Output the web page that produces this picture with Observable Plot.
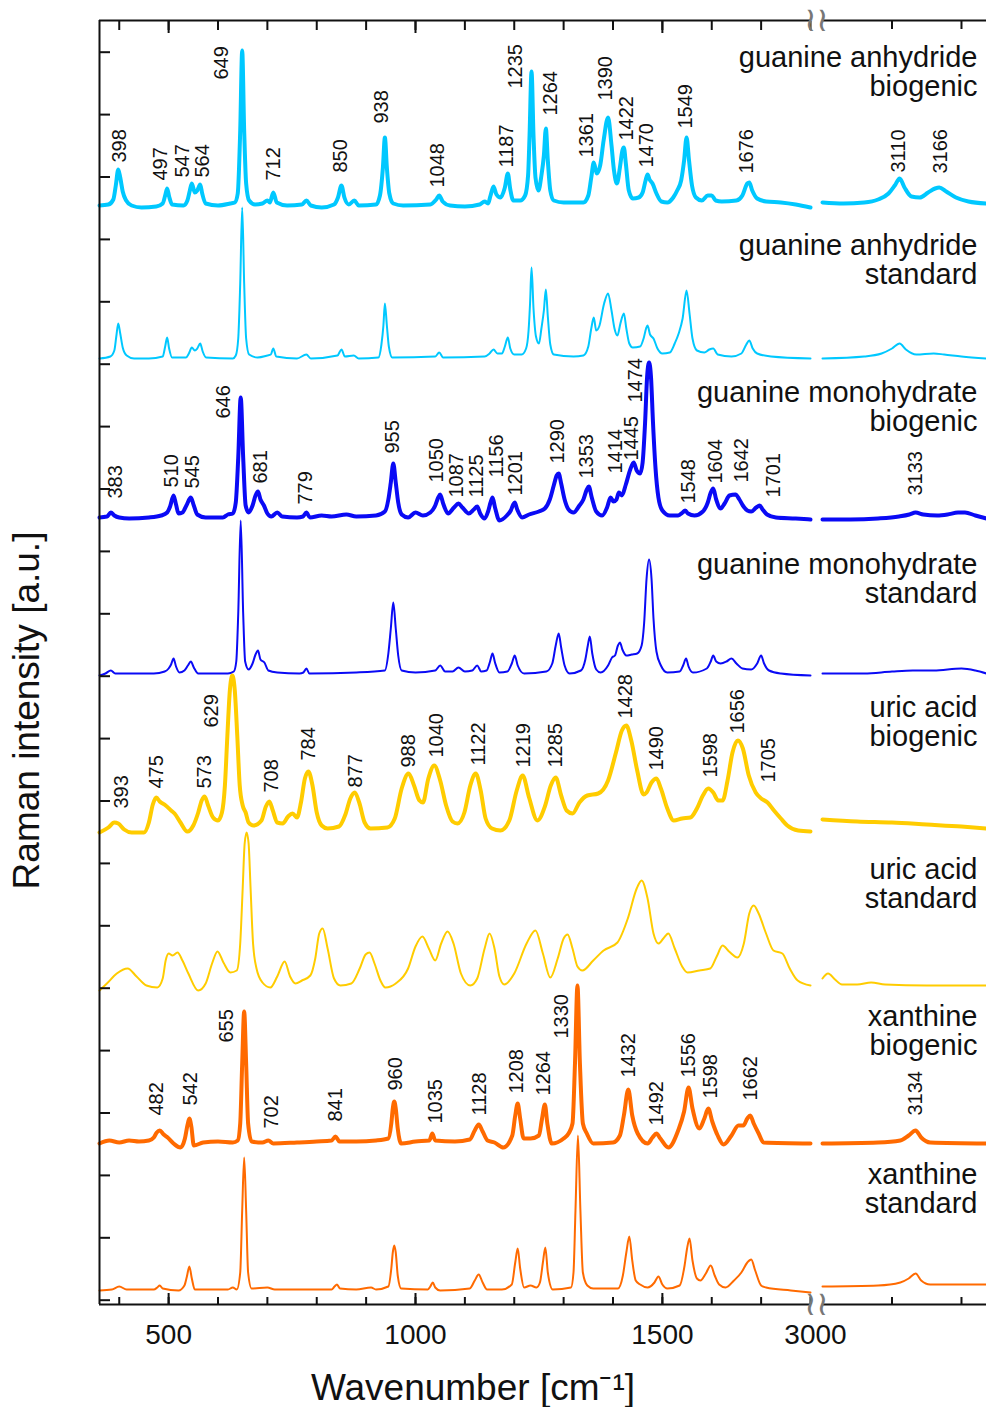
<!DOCTYPE html>
<html><head><meta charset="utf-8">
<script src="https://cdn.jsdelivr.net/npm/d3@7"></script>
<script src="https://cdn.jsdelivr.net/npm/@observablehq/plot@0.6"></script>
<style>
html,body{margin:0;padding:0;background:#fff;overflow:hidden;}
#chart{position:relative;width:986px;height:1407px;}
#chart svg{position:absolute;top:0;}
</style></head><body><div id="chart"></div>
<script>
// ---------- DATA (wavenumber [cm-1], intensity above the spectrum's own baseline [a.u.]) ----------
const gaBioLeft = [[360,0],[378,1],[388,6],[393,20],[398,36],[402,28],[407,14],[414,5],[425,0],[445,-2],[475,-1],[488,2],[493,10],[497,17],[501,9],[507,1],[530,0],[538,5],[543,15],[547,22],[553,13],[558,15],[564,21],[568,12],[575,2],[600,0],[625,2],[634,3],[640,12],[645,75],[649,155],[653,75],[657,22],[663,5],[675,1],[690,2],[700,5],[705,3],[712,13],[719,3],[740,0],[770,1],[779,5],[788,0],[810,-2],[835,1],[843,8],[850,20],[856,8],[865,1],[876,5],[885,0],[920,1],[928,10],[934,38],[938,68],[942,38],[947,12],[955,2],[975,0],[1030,1],[1042,6],[1048,10],[1055,4],[1070,0],[1100,-1],[1130,1],[1140,4],[1147,2],[1152,10],[1158,19],[1164,11],[1172,8],[1181,18],[1187,32],[1192,16],[1198,5],[1212,5],[1222,10],[1228,30],[1231,70],[1235,134],[1239,70],[1243,28],[1249,15],[1255,30],[1260,50],[1264,77],[1268,45],[1273,15],[1280,5],[1300,3],[1340,3],[1350,10],[1356,28],[1361,43],[1367,32],[1374,40],[1381,65],[1390,88],[1397,60],[1402,35],[1408,22],[1414,38],[1419,55],[1422,58],[1426,42],[1432,15],[1440,7],[1452,8],[1460,13],[1466,25],[1470,31],[1474,26],[1480,22],[1488,12],[1498,4],[1510,3],[1522,8],[1530,15],[1538,25],[1544,45],[1549,68],[1554,45],[1560,20],[1568,8],[1580,5],[1592,10],[1600,10],[1608,5],[1620,4],[1650,5],[1662,10],[1672,22],[1676,23],[1682,15],[1692,7],[1710,4],[1740,3],[1770,1],[1800,-2]];
const gaBioRight = [[3000,3],[3030,2],[3060,3],[3080,6],[3095,12],[3104,20],[3111,27],[3118,18],[3128,9],[3140,8],[3152,13],[3162,17],[3168,18],[3178,14],[3192,8],[3210,4],[3236,2]];

const gaStdLeft = [[360,0],[382,2],[390,8],[394,22],[398,35],[402,25],[407,11],[415,3],[430,0],[460,0],[488,2],[493,12],[497,21],[501,10],[507,1],[535,1],[541,5],[547,11],[553,8],[558,10],[564,15],[569,7],[576,1],[630,0],[636,3],[641,20],[645,75],[649,151],[653,75],[657,20],[663,4],[680,1],[700,3],[707,4],[712,10],[718,2],[760,0],[779,4],[788,0],[842,3],[850,9],[857,2],[875,3],[885,0],[925,1],[931,14],[935,33],[938,55],[942,33],[946,12],[953,1],[1040,2],[1048,6],[1056,1],[1140,2],[1150,5],[1158,9],[1166,5],[1175,5],[1181,12],[1187,21],[1192,10],[1200,4],[1215,4],[1224,10],[1229,28],[1232,55],[1235,91],[1239,50],[1244,22],[1250,15],[1255,30],[1260,48],[1264,69],[1268,42],[1273,14],[1280,4],[1320,2],[1340,3],[1350,12],[1356,30],[1361,41],[1366,28],[1372,32],[1382,55],[1390,65],[1397,48],[1403,30],[1409,23],[1415,35],[1422,45],[1427,30],[1433,15],[1440,11],[1455,12],[1462,20],[1467,30],[1470,33],[1475,24],[1482,20],[1490,10],[1500,5],[1515,6],[1525,15],[1533,25],[1541,40],[1549,68],[1555,45],[1561,20],[1570,8],[1585,6],[1595,9],[1603,10],[1612,4],[1640,2],[1660,5],[1670,14],[1676,18],[1683,10],[1692,5],[1720,2],[1800,0]];
const gaStdRight = [[3000,0],[3060,2],[3085,5],[3100,10],[3111,15],[3120,9],[3135,4],[3160,5],[3175,4],[3200,2],[3236,0]];

const gmBioLeft = [[360,0],[375,1],[383,5],[390,2],[400,0],[420,-1],[460,0],[485,2],[497,5],[503,11],[510,22],[515,13],[520,4],[528,5],[536,12],[545,20],[551,12],[558,3],[575,0],[610,0],[620,3],[630,4],[636,15],[641,60],[646,120],[651,60],[656,12],[662,5],[670,12],[676,22],[681,26],[686,18],[693,12],[700,4],[708,1],[720,5],[730,1],[760,0],[772,1],[779,5],[786,0],[810,2],[830,1],[860,3],[880,1],[920,2],[938,6],[945,18],[950,35],[955,54],[960,35],[965,15],[972,3],[985,0],[1000,5],[1015,2],[1030,5],[1040,12],[1046,20],[1050,23],[1056,14],[1066,4],[1078,10],[1087,14],[1095,10],[1108,4],[1118,8],[1125,11],[1131,4],[1140,-1],[1147,6],[1152,15],[1156,20],[1161,10],[1170,-3],[1185,2],[1193,7],[1198,13],[1201,15],[1206,8],[1216,0],[1230,3],[1250,6],[1262,9],[1272,18],[1280,32],[1286,42],[1290,44],[1295,34],[1302,18],[1310,8],[1320,5],[1332,12],[1340,18],[1347,28],[1351,31],[1357,20],[1366,6],[1378,2],[1388,10],[1395,20],[1401,16],[1407,18],[1412,25],[1418,22],[1426,33],[1435,48],[1442,55],[1448,47],[1455,44],[1460,55],[1465,95],[1469,140],[1473,155],[1477,140],[1481,95],[1486,50],[1492,20],[1500,7],[1515,2],[1532,2],[1541,5],[1546,7],[1552,4],[1565,2],[1582,6],[1592,15],[1598,25],[1603,29],[1609,18],[1618,9],[1626,14],[1636,22],[1648,23],[1656,18],[1663,12],[1672,7],[1680,6],[1690,10],[1697,12],[1703,8],[1712,3],[1730,0],[1770,-1],[1800,-2]];
const gmBioRight = [[3000,-2],[3040,-2],[3080,-1],[3110,1],[3125,3],[3134,5],[3145,3],[3165,2],[3180,3],[3195,5],[3205,5],[3220,2],[3236,-1]];

const gmStdLeft = [[360,-2],[372,0],[383,3],[392,0],[420,0],[470,0],[492,2],[500,5],[505,9],[510,15],[515,7],[522,1],[532,3],[539,8],[545,12],[551,6],[560,0],[620,0],[632,2],[637,12],[641,60],[646,153],[651,60],[655,12],[662,4],[670,10],[676,19],[681,23],[686,14],[694,11],[702,3],[720,1],[765,0],[773,1],[779,5],[785,0],[880,1],[938,3],[945,20],[950,45],[955,71],[960,45],[965,18],[972,3],[1000,1],[1040,3],[1050,8],[1060,2],[1075,2],[1087,6],[1100,2],[1115,3],[1125,8],[1133,2],[1144,3],[1151,12],[1156,20],[1161,11],[1170,1],[1186,2],[1195,10],[1201,18],[1207,8],[1220,0],[1265,2],[1277,10],[1284,28],[1290,40],[1295,26],[1302,8],[1312,0],[1335,3],[1344,14],[1349,28],[1353,37],[1358,20],[1366,4],[1375,1],[1390,8],[1398,16],[1404,18],[1410,28],[1414,31],[1419,24],[1427,18],[1438,19],[1449,20],[1458,28],[1463,50],[1468,95],[1473,114],[1478,95],[1482,55],[1488,22],[1497,8],[1510,1],[1535,2],[1542,8],[1548,15],[1553,7],[1562,1],[1590,5],[1598,12],[1603,18],[1609,12],[1618,10],[1630,12],[1640,15],[1650,10],[1662,5],[1680,4],[1692,10],[1700,18],[1706,10],[1716,3],[1740,0],[1800,-2]];
const gmStdRight = [[3000,0],[3060,0],[3100,2],[3130,3],[3160,3],[3200,5],[3220,3],[3236,0]];

const uaBioLeft = [[360,-2],[378,3],[390,8],[398,7],[410,1],[425,-2],[450,-2],[460,8],[468,26],[475,33],[482,29],[494,25],[505,20],[512,17],[524,8],[538,-1],[550,5],[560,18],[567,30],[573,34],[580,25],[590,13],[600,10],[608,18],[614,45],[619,95],[624,140],[629,155],[634,140],[639,95],[644,45],[650,25],[656,18],[662,8],[672,5],[688,10],[697,24],[704,29],[711,20],[720,8],[731,7],[742,14],[751,17],[760,13],[768,28],[776,52],[783,59],[791,46],[800,18],[810,5],[822,2],[845,4],[858,16],[868,32],[877,38],[886,28],[897,8],[909,2],[943,3],[958,12],[972,42],[986,57],[997,45],[1008,30],[1015,28],[1026,52],[1038,65],[1050,50],[1062,25],[1075,9],[1085,7],[1099,18],[1111,45],[1122,57],[1132,40],[1142,12],[1155,2],[1172,0],[1190,10],[1205,40],[1217,55],[1230,33],[1247,10],[1262,24],[1274,45],[1284,53],[1295,35],[1306,20],[1318,17],[1332,28],[1348,35],[1370,37],[1390,50],[1406,78],[1418,100],[1427,105],[1437,90],[1449,60],[1462,36],[1468,38],[1478,48],[1488,52],[1497,42],[1510,22],[1523,10],[1540,12],[1557,13],[1570,22],[1582,35],[1593,42],[1603,38],[1613,30],[1622,30],[1632,50],[1642,78],[1653,90],[1663,82],[1675,55],[1689,38],[1700,32],[1713,28],[1726,20],[1740,12],[1753,5],[1775,0],[1800,-1]];
const uaBioRight = [[3000,11],[3050,9],[3100,8],[3150,6],[3200,4],[3236,2]];

const uaStdLeft = [[360,-2],[375,5],[395,15],[417,20],[435,12],[455,3],[477,1],[488,10],[494,28],[500,35],[508,33],[518,36],[528,28],[540,15],[560,-2],[575,5],[588,25],[599,37],[611,26],[625,16],[638,18],[645,45],[650,100],[654,145],[658,156],[662,145],[666,100],[671,45],[678,20],[690,6],[706,1],[720,12],[735,27],[746,12],[757,5],[770,8],[787,13],[797,30],[805,55],[812,60],[822,40],[835,10],[848,3],[870,5],[887,20],[899,34],[907,36],[917,25],[929,8],[939,1],[960,5],[985,20],[1000,42],[1014,52],[1027,40],[1040,28],[1052,45],[1065,57],[1077,45],[1092,15],[1111,3],[1125,10],[1140,40],[1150,55],[1160,40],[1170,12],[1180,4],[1200,15],[1225,45],[1243,58],[1258,35],[1273,11],[1288,30],[1300,50],[1308,54],[1318,40],[1328,22],[1338,18],[1360,28],[1381,38],[1409,46],[1430,70],[1448,100],[1458,108],[1470,90],[1482,55],[1492,45],[1502,50],[1512,55],[1525,40],[1540,22],[1551,16],[1575,18],[1597,20],[1610,32],[1622,43],[1635,37],[1652,31],[1665,45],[1676,75],[1685,83],[1695,75],[1710,55],[1725,38],[1743,35],[1758,20],[1774,8],[1800,3]];
const uaStdRight = [[3000,10],[3008,15],[3018,9],[3028,4],[3050,4],[3070,6],[3090,4],[3150,3],[3236,3]];

const xBioLeft = [[360,0],[380,3],[400,1],[420,3],[440,2],[460,3],[470,6],[476,11],[482,13],[490,9],[498,6],[510,0],[524,-4],[533,5],[538,18],[542,25],[546,17],[551,-2],[570,1],[600,2],[630,1],[640,3],[645,20],[649,80],[653,132],[657,80],[661,20],[668,2],[690,1],[702,3],[712,0],[760,1],[800,2],[830,3],[838,7],[846,2],[880,2],[920,3],[945,5],[951,20],[954,35],[957,42],[960,35],[964,15],[971,0],[1000,2],[1028,3],[1034,10],[1040,3],[1080,2],[1110,4],[1120,13],[1128,19],[1136,12],[1146,3],[1160,1],[1178,-4],[1196,8],[1202,28],[1207,40],[1212,25],[1219,5],[1233,5],[1250,8],[1256,24],[1262,39],[1267,20],[1276,0],[1300,5],[1310,10],[1318,20],[1323,80],[1328,158],[1333,80],[1339,20],[1347,10],[1360,0],[1400,1],[1414,8],[1422,28],[1431,54],[1439,28],[1450,10],[1470,0],[1480,6],[1488,10],[1496,5],[1512,-4],[1532,13],[1544,32],[1553,56],[1561,35],[1575,15],[1585,25],[1593,35],[1601,22],[1612,8],[1624,-1],[1640,8],[1654,18],[1664,18],[1672,25],[1678,28],[1685,20],[1695,10],[1705,1],[1800,0]];
const xBioRight = [[3000,0],[3080,1],[3112,3],[3124,8],[3134,13],[3142,6],[3155,1],[3236,0]];

const xStdLeft = [[360,0],[385,1],[400,4],[415,1],[470,1],[477,3],[482,5],[488,2],[520,0],[532,5],[537,14],[542,24],[547,12],[553,1],[620,1],[630,3],[638,1],[645,18],[649,80],[653,133],[657,80],[661,18],[668,2],[700,3],[715,1],[760,1],[830,1],[836,4],[841,6],[847,2],[880,1],[910,3],[920,1],[945,4],[951,22],[954,38],[957,45],[960,38],[964,15],[971,2],[1025,1],[1030,4],[1035,8],[1040,3],[1050,0],[1110,2],[1120,10],[1128,16],[1136,8],[1145,1],[1175,1],[1195,6],[1202,28],[1207,42],[1212,22],[1220,3],[1233,5],[1245,3],[1252,8],[1258,28],[1263,43],[1268,18],[1278,1],[1315,3],[1320,18],[1324,80],[1329,155],[1334,80],[1339,18],[1348,5],[1360,2],[1410,2],[1420,15],[1427,38],[1433,54],[1439,30],[1446,10],[1455,6],[1470,3],[1484,8],[1492,14],[1500,6],[1510,2],[1535,5],[1545,25],[1550,42],[1555,52],[1561,30],[1570,12],[1577,10],[1588,17],[1598,25],[1606,15],[1615,6],[1628,3],[1645,10],[1660,18],[1672,28],[1680,31],[1688,20],[1700,5],[1710,3],[1760,0],[1800,-2]];
const xStdRight = [[3000,4],[3080,5],[3112,8],[3124,12],[3134,17],[3142,10],[3155,6],[3236,6]];

// peak annotations: [label, wavenumber where the label sits, height above baseline]
const gaBioPeaks = [["398",401.5,43],["497",483.5,25],["547",528,28],["564",568.6,28],["649",608,126],["712",713.4,25],["850",848,33],["938",932,82],["1048",1045.6,18],["1187",1185.3,38],["1235",1203.5,117],["1264",1274.4,90],["1361",1347.3,48],["1390",1384.8,105],["1422",1428.3,65],["1470",1468.9,38],["1549",1546.8,77],["1676",1671.4,32],["3110",3110,33],["3166",3170,32]];
const gmBioPeaks = [["383",392.4,19],["510",506.8,30],["545",549.4,29],["646",612,99],["681",686,34],["779",777,13],["955",954.4,64],["1050",1043.5,35],["1087",1084,20],["1125",1124.6,20],["1156",1165,40],["1201",1202.5,22],["1290",1288.6,54],["1353",1347.3,39],["1414",1405,44],["1445",1438.4,57],["1474",1445.6,115],["1548",1553.9,14],["1604",1607.6,34],["1642",1661,35],["1701",1726,20],["3133",3134,22]];
const uaBioPeaks = [["393",405.6,22],["475",476.5,42],["573",573.7,42],["629",586.8,103],["708",709.4,38],["784",784.3,70],["877",878.5,43],["988",986.8,63],["1040",1043.5,73],["1122",1128.6,65],["1219",1219.7,63],["1285",1283.5,63],["1428",1425.3,112],["1490",1489,60],["1598",1597.5,53],["1656",1653,97],["1705",1716,48]];
const xBioPeaks = [["482",476.5,28],["542",544.3,38],["655",618.2,101],["702",709.4,15],["841",838,22],["960",959.5,53],["1035",1040.5,20],["1128",1130.6,28],["1208",1205.6,50],["1264",1260.2,48],["1330",1296.7,105],["1432",1432.4,66],["1492",1489,18],["1556",1553.9,66],["1598",1597.5,45],["1662",1678.5,43],["3134",3134,28]];

const sampleNames = ["guanine anhydride\nbiogenic","guanine anhydride\nstandard","guanine monohydrate\nbiogenic","guanine monohydrate\nstandard","uric acid\nbiogenic","uric acid\nstandard","xanthine\nbiogenic","xanthine\nstandard"];
const baselines = [1094.7, 941.7, 782.7, 626.7, 469.7, 311.7, 156.7, 9.7];
const xTickLabels = [500, 1000, 1500];
const xMinorTicks = [400,500,600,700,800,900,1000,1100,1200,1300,1400,1500,1600,1700,1800];
const xRightTicks = [3100, 3200];

// ---------- STYLE ----------
const FONT = "'Liberation Sans', Arial, Helvetica, sans-serif";
const colors = ["#00c8ff","#00c8ff","#0a0af5","#0a0af5","#ffcc00","#ffcc00","#ff6a00","#ff6a00"];
const widths = [4,2,4,2,4,2,4,2];
const nameLift = [110, 75, 87, 71, 85, 81, 89, 78];
const INK = "#111";
const Y0 = -4.3, Y1 = 1279.7;
const yTicks = d3.range(21).map(i => i * 62.4);

const spectra = [
  {left: gaBioLeft, right: gaBioRight, peaks: gaBioPeaks},
  {left: gaStdLeft, right: gaStdRight, peaks: []},
  {left: gmBioLeft, right: gmBioRight, peaks: gmBioPeaks},
  {left: gmStdLeft, right: gmStdRight, peaks: []},
  {left: uaBioLeft, right: uaBioRight, peaks: uaBioPeaks},
  {left: uaStdLeft, right: uaStdRight, peaks: []},
  {left: xBioLeft, right: xBioRight, peaks: xBioPeaks},
  {left: xStdLeft, right: xStdRight, peaks: []}
].map((s, i) => ({...s, name: sampleNames[i], base: baselines[i], color: colors[i], width: widths[i], lift: nameLift[i]}));

const rows = (pts, base) => pts.map(([w, h]) => ({w, v: base + h}));

function spectrumMarks(side, xmin, xmax) {
  const marks = [];
  spectra.forEach(s => {
    marks.push(Plot.line(rows(s[side], s.base), {x: "w", y: "v", stroke: s.color, strokeWidth: s.width, curve: "monotone-x", strokeLinejoin: "round", strokeLinecap: "round"}));
  });
  spectra.forEach(s => {
    const p = s.peaks.filter(d => d[1] >= xmin && d[1] <= xmax);
    if (p.length) marks.push(Plot.text(p, {x: d => d[1], y: d => s.base + d[2], text: d => d[0], rotate: -90, textAnchor: "start", lineAnchor: "middle", fontSize: 20, fill: INK}));
  });
  return marks;
}

const common = {height: 1407, marginTop: 20, marginBottom: 103,
  style: {fontFamily: FONT, background: "transparent", overflow: "visible", maxWidth: "none"}};
const noText = () => "";
const plain = d => String(d);

const left = Plot.plot({
  ...common, width: 830, marginLeft: 99, marginRight: 20,
  x: {domain: [360, 1800]},
  y: {domain: [Y0, Y1]},
  marks: [
    ...spectrumMarks("left", 360, 1800),
    Plot.ruleX([360], {stroke: INK, strokeWidth: 2}),
    Plot.ruleY([Y0, Y1], {stroke: INK, strokeWidth: 2}),
    Plot.axisY(yTicks, {anchor: "left", tickSize: 11, dx: 11, tickFormat: noText, label: null, strokeWidth: 2, stroke: INK}),
    Plot.axisX(xMinorTicks, {anchor: "bottom", tickSize: 7, dy: -7, tickFormat: noText, label: null, strokeWidth: 2, stroke: INK}),
    Plot.axisX(xTickLabels, {anchor: "bottom", tickSize: 11, dy: -11, tickFormat: noText, label: null, strokeWidth: 2, stroke: INK}),
    Plot.axisX(xMinorTicks, {anchor: "top", tickSize: 9, dy: 9, tickFormat: noText, label: null, strokeWidth: 2, stroke: INK}),
    Plot.axisX(xTickLabels, {anchor: "top", tickSize: 12, dy: 12, tickFormat: noText, label: null, strokeWidth: 2, stroke: INK}),
    Plot.axisX(xTickLabels, {anchor: "bottom", tickSize: 0, tickPadding: 20, fontSize: 28, tickFormat: plain, label: null, fill: INK}),
    Plot.text([Y0, Y1], {x: () => 1800, y: d => d, text: () => "\u2240", fontSize: 34, fill: "#777"}),
    Plot.text(["Raman intensity [a.u.]"], {frameAnchor: "left", dx: -72, dy: 48, rotate: -90, fontSize: 37, textAnchor: "middle", lineAnchor: "middle", fill: INK}),
    Plot.text(["Wavenumber [cm\u207B\u00B9]"], {frameAnchor: "bottom", dx: 18, dy: 84, fontSize: 37, textAnchor: "middle", lineAnchor: "middle", fill: INK})
  ]
});

const right = Plot.plot({
  ...common, width: 386, marginLeft: 222, marginRight: 0,
  x: {domain: [3000, 3236]},
  y: {domain: [Y0, Y1], axis: null},
  marks: [
    ...spectrumMarks("right", 3000, 3236),
    Plot.ruleY([Y0, Y1], {stroke: INK, strokeWidth: 2}),
    Plot.axisX(xRightTicks, {anchor: "bottom", tickSize: 7, dy: -7, tickFormat: noText, label: null, strokeWidth: 2, stroke: INK}),
    Plot.axisX(xRightTicks, {anchor: "top", tickSize: 8, dy: 8, tickFormat: noText, label: null, strokeWidth: 2, stroke: INK}),
    Plot.axisX([3000], {anchor: "bottom", tickSize: 0, tickPadding: 20, dx: -7, fontSize: 28, tickFormat: plain, label: null, fill: INK}),
    Plot.text([Y0, Y1], {x: () => 3000, y: d => d, text: () => "\u2240", fontSize: 34, fill: "#777"}),
    Plot.text(spectra, {frameAnchor: "right", y: d => d.base + d.lift, text: d => d.name, textAnchor: "end", lineAnchor: "bottom", dx: -9, fontSize: 29, lineHeight: 1, fill: INK})
  ]
});

left.style.left = "0px";
right.style.left = "600px";
const chart = document.getElementById("chart");
chart.appendChild(left);
chart.appendChild(right);
</script></body></html>
